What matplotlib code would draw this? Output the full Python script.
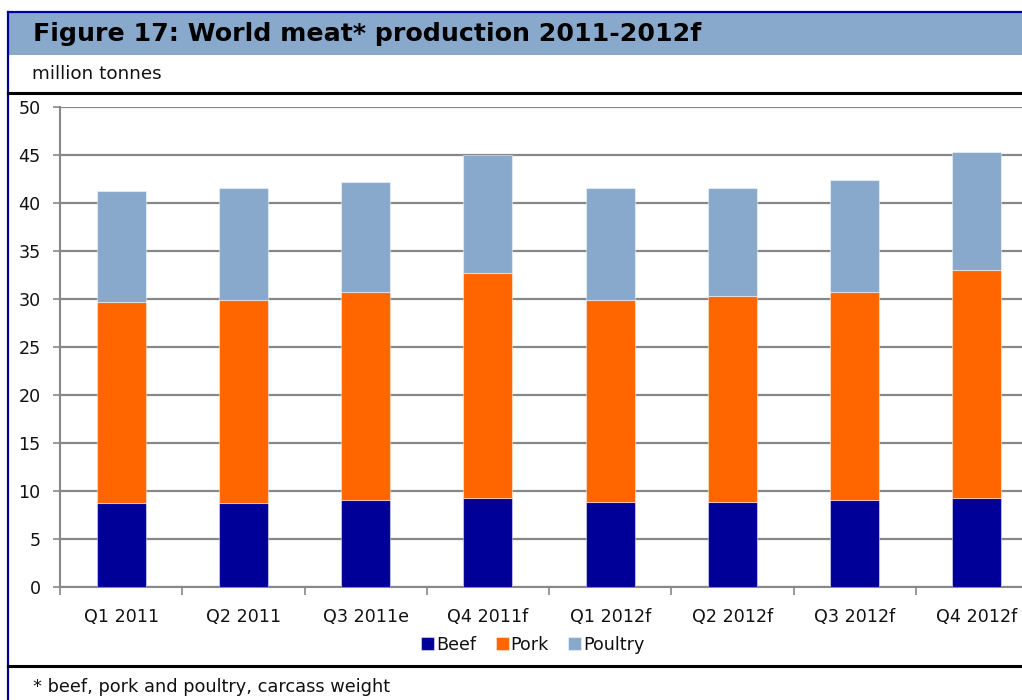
import matplotlib
matplotlib.use("Agg")
import matplotlib.pyplot as plt
from matplotlib.lines import Line2D
from matplotlib.patches import Rectangle
import numpy as np

# Quarterly world meat production, million tonnes
quarters = ["Q1 2011", "Q2 2011", "Q3 2011e", "Q4 2011f",
            "Q1 2012f", "Q2 2012f", "Q3 2012f", "Q4 2012f"]
beef = [8.7, 8.7, 9.1, 9.3, 8.9, 8.9, 9.1, 9.3]
pork = [21.0, 21.2, 21.6, 23.4, 21.0, 21.4, 21.6, 23.7]
poultry = [11.5, 11.7, 11.5, 12.3, 11.7, 11.3, 11.7, 12.3]

series_names = ["Beef", "Pork", "Poultry"]
series_colors = ["#000099", "#ff6600", "#88a9cc"]

W, H = 1022, 700
fig = plt.figure(figsize=(W / 100, H / 100), dpi=100)
plt.rcParams["font.family"] = ["DejaVu Sans"]


def fx(px):
    return px / W


def fy(py):
    return 1 - py / H


# Header band and frame
fig.patches.append(Rectangle((fx(8), fy(55)), fx(W) - fx(8), fy(12) - fy(55),
                             transform=fig.transFigure, facecolor="#88a9cc",
                             edgecolor="none", zorder=0))
fig.lines.append(Line2D([fx(8), fx(W)], [fy(12), fy(12)], transform=fig.transFigure,
                        color="#000099", lw=1.6))
fig.lines.append(Line2D([fx(8), fx(8)], [fy(12), fy(H)], transform=fig.transFigure,
                        color="#000099", lw=1.6))
fig.lines.append(Line2D([fx(8), fx(W)], [fy(93), fy(93)], transform=fig.transFigure,
                        color="black", lw=2.2))
fig.lines.append(Line2D([fx(8), fx(W)], [fy(666), fy(666)], transform=fig.transFigure,
                        color="black", lw=2.2))

fig.text(fx(33), fy(34), "Figure 17: World meat* production 2011-2012f",
         fontsize=18.2, fontweight="bold", color="black", va="center", ha="left")
fig.text(fx(32), fy(74), "million tonnes", fontsize=13.2, va="center", ha="left",
         color="#111111")
fig.text(fx(33), fy(687), "* beef, pork and poultry, carcass weight", fontsize=12.8,
         va="center", ha="left", color="#111111")

# Stacked column chart
ax = fig.add_axes([fx(60), fy(587), (1038 - 60) / W, (587 - 107) / H])
x = np.arange(len(quarters))
bottom = np.zeros(len(quarters))
handles = []
for name, vals, col in zip(series_names, [beef, pork, poultry], series_colors):
    b = ax.bar(x, vals, width=0.40, bottom=bottom, color=col, label=name,
               edgecolor=(1, 1, 1, 0.45), linewidth=0.8, zorder=3)
    handles.append(b)
    bottom += np.array(vals)

ax.set_xlim(-0.5, len(quarters) - 0.5)
ax.set_ylim(0, 50)
ax.set_yticks(np.arange(0, 51, 5))
ax.yaxis.grid(True, color="#888888", linewidth=1.6, zorder=1)
ax.set_axisbelow(True)

ax.set_xticks(x)
ax.set_xticklabels(quarters, fontsize=12.6, color="#111111")
ax.set_xticks(np.arange(-0.5, len(quarters), 1.0), minor=True)
ax.tick_params(axis="x", which="major", length=0, pad=15)
ax.tick_params(axis="x", which="minor", length=6, width=1.2, color="#888888", direction="out")
ax.tick_params(axis="y", length=5, width=1.2, color="#888888", labelsize=12.6,
               labelcolor="#111111", pad=9)

for s in ["top", "right"]:
    ax.spines[s].set_visible(False)
ax.spines["left"].set_color("#888888")
ax.spines["left"].set_linewidth(1.5)
ax.spines["bottom"].set_color("#888888")
ax.spines["bottom"].set_linewidth(1.5)

leg = fig.legend(handles=handles, labels=series_names, loc="center",
                 bbox_to_anchor=(fx(533), fy(645)), ncol=3, frameon=False,
                 fontsize=12.6, handlelength=0.75, handleheight=0.75,
                 handletextpad=0.12, columnspacing=1.1, borderaxespad=0)
for t in leg.get_texts():
    t.set_color("#111111")

fig.savefig("out.png", dpi=100)
